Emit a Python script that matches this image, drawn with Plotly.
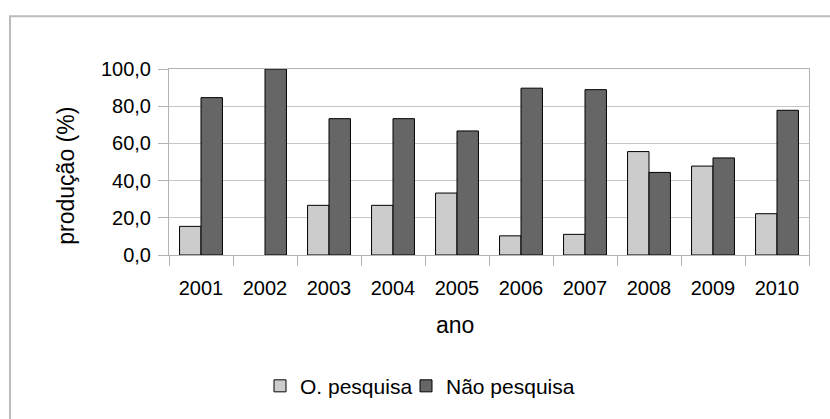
import plotly.graph_objects as go

anos = ["2001", "2002", "2003", "2004", "2005", "2006", "2007", "2008", "2009", "2010"]
o_pesquisa = [15.4, 0.0, 26.7, 26.7, 33.3, 10.3, 11.1, 55.6, 47.8, 22.2]
nao_pesquisa = [84.6, 100.0, 73.3, 73.3, 66.7, 89.7, 88.9, 44.4, 52.2, 77.8]
y_ticks = [0, 20, 40, 60, 80, 100]

FONT = "Liberation Sans, Arial, sans-serif"

fig = go.Figure()
fig.add_trace(go.Bar(x=anos, y=o_pesquisa, name="O. pesquisa", legend="legend",
                     marker=dict(color="#cccccc",
                                 line=dict(color="#000000",
                                           width=[0 if v == 0 else 1 for v in o_pesquisa]))))
fig.add_trace(go.Bar(x=anos, y=nao_pesquisa, name="Não pesquisa", legend="legend2",
                     marker=dict(color="#666666",
                                 line=dict(color="#000000",
                                           width=[0 if v == 0 else 1 for v in nao_pesquisa]))))

# plot area geometry (pixels) used to place titles/border in paper coords
L, R, T, B = 169, 21, 69, 160
W, H = 830, 419
pw, ph = W - L - R, H - T - B

def px_x(p):
    return (p - L) / pw

def px_y(p):
    return (H - B - p) / ph

leg_common = dict(orientation="h", xanchor="left", yanchor="middle",
                  font=dict(size=21), itemwidth=30, bgcolor="rgba(0,0,0,0)")

fig.update_layout(
    width=W, height=H,
    margin=dict(l=L, r=R, t=T, b=B),
    paper_bgcolor="white", plot_bgcolor="white",
    separators=",.",
    font=dict(family=FONT, size=20, color="#000000"),
    barmode="group", bargap=0.33, bargroupgap=0,
    showlegend=True,
    legend=dict(x=px_x(260), y=px_y(393), **leg_common),
    legend2=dict(x=px_x(406), y=px_y(393), **leg_common),
    xaxis=dict(type="category", tickson="boundaries", ticks="outside", ticklen=10,
               tickcolor="#b3b3b3", showgrid=False, showline=True, linecolor="#b3b3b3",
               mirror=True, tickfont=dict(size=20), ticklabelstandoff=15),
    yaxis=dict(range=[0, 100], tickvals=y_ticks, tickformat=".1f", ticks="outside",
               ticklen=10, tickcolor="#b3b3b3", showgrid=True, gridcolor="#c6c6c6",
               showline=True, linecolor="#b3b3b3", mirror=True, zeroline=False,
               tickfont=dict(size=20), ticklabelstandoff=3),
    annotations=[
        dict(text="produção (%)", xref="paper", yref="paper", x=px_x(66), y=px_y(178),
             textangle=-90, showarrow=False, font=dict(size=23), xanchor="center", yanchor="middle"),
        dict(text="ano", xref="paper", yref="paper", x=px_x(455), y=px_y(331),
             showarrow=False, font=dict(size=23), xanchor="center", yanchor="middle"),
    ],
    shapes=[
        dict(type="rect", xref="paper", yref="paper", x0=px_x(10), x1=px_x(840),
             y0=px_y(15), y1=px_y(430), line=dict(color="#bcbcbc", width=2),
             fillcolor="rgba(0,0,0,0)", layer="below"),
    ],
)

fig.write_html("out.html", config={"displayModeBar": False},
               post_script="document.body.style.margin='0px';")
